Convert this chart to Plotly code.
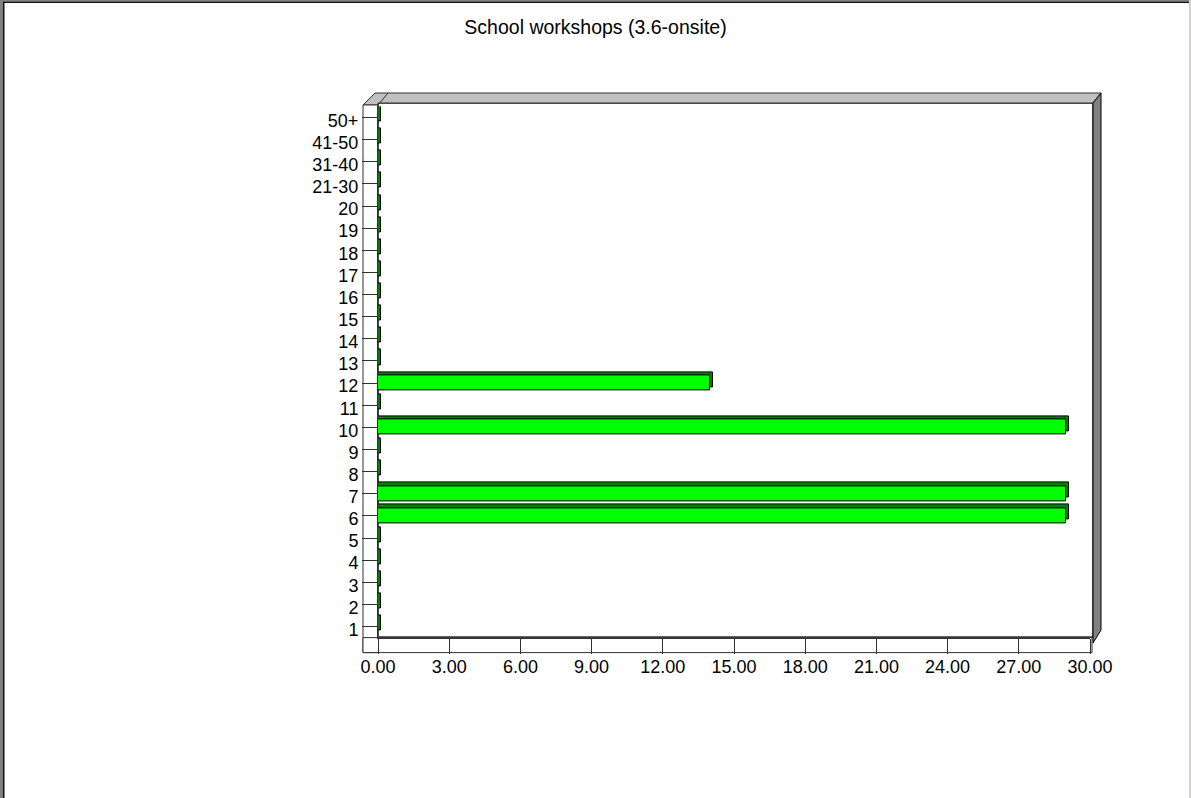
import plotly.graph_objects as go

W, H = 1191, 798

title_text = "School workshops (3.6-onsite)"
categories = ["1", "2", "3", "4", "5", "6", "7", "8", "9", "10",
              "11", "12", "13", "14", "15", "16", "17", "18", "19", "20",
              "21-30", "31-40", "41-50", "50+"]
values = [0, 0, 0, 0, 0, 29, 29, 0, 0, 29,
          0, 14, 0, 0, 0, 0, 0, 0, 0, 0,
          0, 0, 0, 0]
x_ticks = [0, 3, 6, 9, 12, 15, 18, 21, 24, 27, 30]


def px(x):
    return x / W


def py(y):
    return 1 - y / H


DEPTH_X = 0.13   # side face of bars (value units)
BAR_W = 0.68
BAR_LIFT = 0.16  # top face of bars (category units)
dark = "#303030"
font = "Liberation Sans, Arial, sans-serif"

fig = go.Figure()
# dark "3d" face behind each bar
fig.add_trace(go.Bar(
    y=categories, x=[v + DEPTH_X for v in values], base=0, orientation="h",
    width=BAR_W, offset=-BAR_W / 2 + BAR_LIFT,
    marker=dict(color="#008000", line=dict(color="black", width=1)),
    hoverinfo="skip", showlegend=False))
# front face
fig.add_trace(go.Bar(
    y=categories, x=values, orientation="h",
    width=BAR_W, offset=-BAR_W / 2,
    marker=dict(color="#00ff00", line=dict(color="black", width=1)),
    showlegend=False))


def poly(pts):
    return "M" + " L".join(f"{px(a)},{py(b)}" for a, b in pts) + " Z"


shapes = [
    # back wall
    dict(type="rect", xref="paper", yref="paper", x0=px(378), x1=px(1093), y0=py(103), y1=py(637),
         fillcolor="white", line=dict(color=dark, width=1.5), layer="below"),
    # top face
    dict(type="path", xref="paper", yref="paper",
         path=poly([(363, 105), (375, 93), (1101, 93), (1093, 103), (378, 103), (378, 105)]),
         fillcolor="#c0c0c0", line=dict(color=dark, width=1), layer="below"),
    dict(type="line", xref="paper", yref="paper", x0=px(378), y0=py(105), x1=px(388), y1=py(93),
         line=dict(color=dark, width=1), layer="below"),
    # right wall
    dict(type="path", xref="paper", yref="paper",
         path=poly([(1093, 103), (1101, 93), (1101, 630), (1093, 643)]),
         fillcolor="#808080", line=dict(color="black", width=1), layer="below"),
    # left strip
    dict(type="rect", xref="paper", yref="paper", x0=px(363), x1=px(378), y0=py(105), y1=py(652.6),
         fillcolor="white", line=dict(color=dark, width=1), layer="below"),
    # bottom strip
    dict(type="rect", xref="paper", yref="paper", x0=px(363), x1=px(1092), y0=py(637.6), y1=py(652.6),
         fillcolor="white", line=dict(color=dark, width=1), layer="below"),
    # window border
    dict(type="rect", xref="paper", yref="paper", x0=0, x1=px(3), y0=0, y1=1,
         fillcolor="#808080", line=dict(width=0), layer="above"),
    dict(type="rect", xref="paper", yref="paper", x0=px(3), x1=px(4.5), y0=0, y1=py(1.5),
         fillcolor="#101010", line=dict(width=0), layer="above"),
    dict(type="rect", xref="paper", yref="paper", x0=0, x1=1, y0=py(1.5), y1=1,
         fillcolor="#808080", line=dict(width=0), layer="above"),
    dict(type="rect", xref="paper", yref="paper", x0=px(3), x1=1, y0=py(3), y1=py(1.5),
         fillcolor="#101010", line=dict(width=0), layer="above"),
    dict(type="rect", xref="paper", yref="paper", x0=px(1189), x1=1, y0=0, y1=1,
         fillcolor="#d4d0c8", line=dict(width=0), layer="above"),
]

fig.update_layout(
    width=W, height=H,
    margin=dict(l=0, r=0, t=0, b=0, pad=0, autoexpand=False),
    paper_bgcolor="white", plot_bgcolor="rgba(0,0,0,0)",
    barmode="overlay", bargap=0,
    font=dict(family=font, size=18, color="black"),
    title=dict(text=title_text, x=0.5, xanchor="center", y=py(27), yanchor="middle",
               font=dict(family=font, size=19.5, color="black")),
    shapes=shapes,
    xaxis=dict(domain=[px(378), px(1090)], range=[0, 30], tickvals=x_ticks, tickformat=".2f",
               showgrid=False, zeroline=False, showline=True, linecolor=dark, automargin=False,
               ticks="outside", ticklen=15, tickcolor=dark, tickwidth=1, ticklabelstandoff=-2),
    yaxis=dict(domain=[py(637.6), py(106.4)], type="category",
               categoryorder="array", categoryarray=categories, range=[-0.5, 23.5],
               showgrid=False, zeroline=False, showline=True, linecolor=dark, automargin=False,
               ticks="outside", ticklen=15, tickcolor=dark, tickwidth=1, ticklabelshift=3),
)

# page margin off so the figure sits at the window's corner
fig.write_html("out.html", config={"displayModeBar": False, "responsive": False},
               post_script="document.body.style.margin='0';document.body.style.overflow='hidden';")
